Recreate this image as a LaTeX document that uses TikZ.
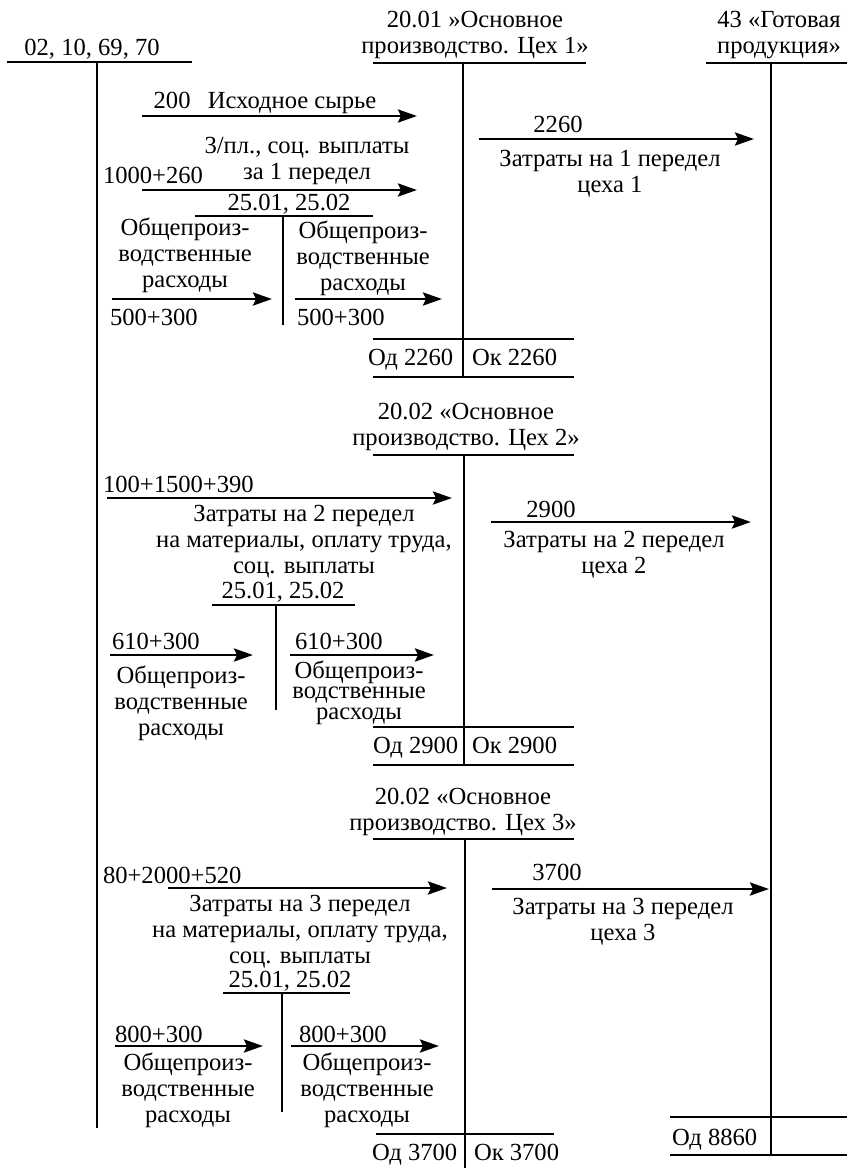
\documentclass[tikz,border=0pt]{standalone}
\usepackage{fontspec}
\setmainfont{Liberation Serif}
\usetikzlibrary{arrows.meta}
\begin{document}
\begin{tikzpicture}[x=0.5pt,y=-0.5pt,
  ln/.style={line width=1.45pt},
  arr/.style={line width=1.45pt,-{Stealth[length=9.5pt,width=6.5pt,inset=1.5pt]}},
  txt/.style={inner sep=0pt,outer sep=0pt,font=\fontsize{12.3}{13}\selectfont,align=center,anchor=base},
  lt/.style={txt,anchor=base west},
  tight/.style={txt,font=\fontsize{12.3}{10.1}\selectfont},
]
\useasboundingbox (0,0) rectangle (847,1168);
% (multi-line nodes are placed at the baseline of their last line)

% ---------- account headers ----------
\node[txt] (h0) at (92,55) {02, 10, 69, 70};
\node[txt] (h1) at (475,53) {20.01 »Основное\\производство. Цех 1»};
\node[txt] (h43) at (779,53) {43 «Готовая\\продукция»};
\node[txt] (h2) at (466,445) {20.02 «Основное\\производство. Цех 2»};
\node[txt] (h3) at (463,830) {20.02 «Основное\\производство. Цех 3»};

% ---------- T-accounts ----------
% 02,10,69,70
\draw[ln] (7,62) -- (192,62);
\draw[ln] (97,62) -- (97,1128);
% 20.01
\draw[ln] (373,63) -- (586,63);
\draw[ln] (463,63) -- (463,377);
\draw[ln] (373,339) -- (574,339);
\draw[ln] (373,377) -- (574,377);
% 43
\draw[ln] (706,63) -- (847,63);
\draw[ln] (771,63) -- (771,1155);
\draw[ln] (670,1117) -- (847,1117);
\draw[ln] (670,1155) -- (847,1155);
% 20.02 (2)
\draw[ln] (373,455) -- (574,455);
\draw[ln] (464,455) -- (464,765);
\draw[ln] (373,727) -- (574,727);
\draw[ln] (373,765) -- (574,765);
% 20.02 (3)
\draw[ln] (373,839) -- (574,839);
\draw[ln] (465,839) -- (465,1168);
\draw[ln] (376,1134) -- (554,1134);
% 25.01, 25.02 sub-accounts
\node[txt] (s1) at (289,210) {25.01, 25.02};
\draw[ln] (195,216) -- (373,216);
\draw[ln] (283,216) -- (283,325);
\node[txt] (s2) at (283,598) {25.01, 25.02};
\draw[ln] (212,605) -- (355,605);
\draw[ln] (276,605) -- (276,710);
\node[txt] (s3) at (290,987) {25.01, 25.02};
\draw[ln] (223,993) -- (350,993);
\draw[ln] (282,993) -- (282,1112);

% ---------- section 1 ----------
\coordinate (a1s) at (142,116); \coordinate (a1e) at (417,116);
\draw[arr] (a1s) -- (a1e);
\node[txt] (t1) at (265,108) {200\hspace{0.7em}Исходное сырье};

\coordinate (a2s) at (142,190); \coordinate (a2e) at (417,190);
\draw[arr] (a2s) -- (a2e);
\node[lt] (n2) at (103,183) {1000+260};
\node[txt] (t2) at (307,179) {3/пл., соц. выплаты\\за 1 передел};

\coordinate (a3s) at (479,139); \coordinate (a3e) at (754,139);
\draw[arr] (a3s) -- (a3e);
\node[txt] (n3) at (558,132) {2260};
\node[txt] (t3) at (610,192) {Затраты на 1 передел\\цеха 1};

\coordinate (b1s) at (112,299); \coordinate (b1e) at (272,299);
\draw[arr] (b1s) -- (b1e);
\node[txt] (u1) at (185,287) {Общепроиз-\\водственные\\расходы};
\node[lt] (m1) at (110,325) {500+300};

\coordinate (c1s) at (295,299); \coordinate (c1e) at (442,299);
\draw[arr] (c1s) -- (c1e);
\node[txt] (v1) at (363,290) {Общепроиз-\\водственные\\расходы};
\node[lt] (k1) at (297,325) {500+300};

\node[lt] (od1) at (368,365) {Од 2260};
\node[lt] (ok1) at (472,365) {Ок 2260};

% ---------- section 2 ----------
\coordinate (a4s) at (107,498); \coordinate (a4e) at (452,498);
\draw[arr] (a4s) -- (a4e);
\node[lt] (n4) at (103,492) {100+1500+390};
\node[txt] (t4) at (304,573) {Затраты на 2 передел\\на материалы, оплату труда,\\соц. выплаты};

\coordinate (a5s) at (491,522); \coordinate (a5e) at (751,522);
\draw[arr] (a5s) -- (a5e);
\node[txt] (n5) at (551,517) {2900};
\node[txt] (t5) at (614,573) {Затраты на 2 передел\\цеха 2};

\coordinate (b2s) at (110,655); \coordinate (b2e) at (253,655);
\draw[arr] (b2s) -- (b2e);
\node[lt] (m2) at (112,649) {610+300};
\node[txt] (u2) at (181,735) {Общепроиз-\\водственные\\расходы};

\coordinate (c2s) at (290,655); \coordinate (c2e) at (434,655);
\draw[arr] (c2s) -- (c2e);
\node[lt] (k2) at (295,649) {610+300};
\node[tight] (v2) at (359,719) {Общепроиз-\\водственные\\расходы};

\node[lt] (od2) at (373,753) {Од 2900};
\node[lt] (ok2) at (472,753) {Ок 2900};

% ---------- section 3 ----------
\coordinate (a6s) at (168,888); \coordinate (a6e) at (447,888);
\draw[arr] (a6s) -- (a6e);
\node[lt] (n6) at (103,883) {80+2000+520};
\node[txt] (t6) at (300,963) {Затраты на 3 передел\\на материалы, оплату труда,\\соц. выплаты};

\coordinate (a7s) at (492,889); \coordinate (a7e) at (769,889);
\draw[arr] (a7s) -- (a7e);
\node[txt] (n7) at (557,880) {3700};
\node[txt] (t7) at (623,940) {Затраты на 3 передел\\цеха 3};

\coordinate (b3s) at (115,1046); \coordinate (b3e) at (263,1046);
\draw[arr] (b3s) -- (b3e);
\node[lt] (m3) at (115,1042) {800+300};
\node[txt] (u3) at (188,1122) {Общепроиз-\\водственные\\расходы};

\coordinate (c3s) at (291,1046); \coordinate (c3e) at (439,1046);
\draw[arr] (c3s) -- (c3e);
\node[lt] (k3) at (299,1042) {800+300};
\node[txt] (v3) at (367,1122) {Общепроиз-\\водственные\\расходы};

\node[lt] (od3) at (372,1160) {Од 3700};
\node[lt] (ok3) at (474,1160) {Ок 3700};
\node[lt] (od43) at (672,1145) {Од 8860};
\end{tikzpicture}
\end{document}
